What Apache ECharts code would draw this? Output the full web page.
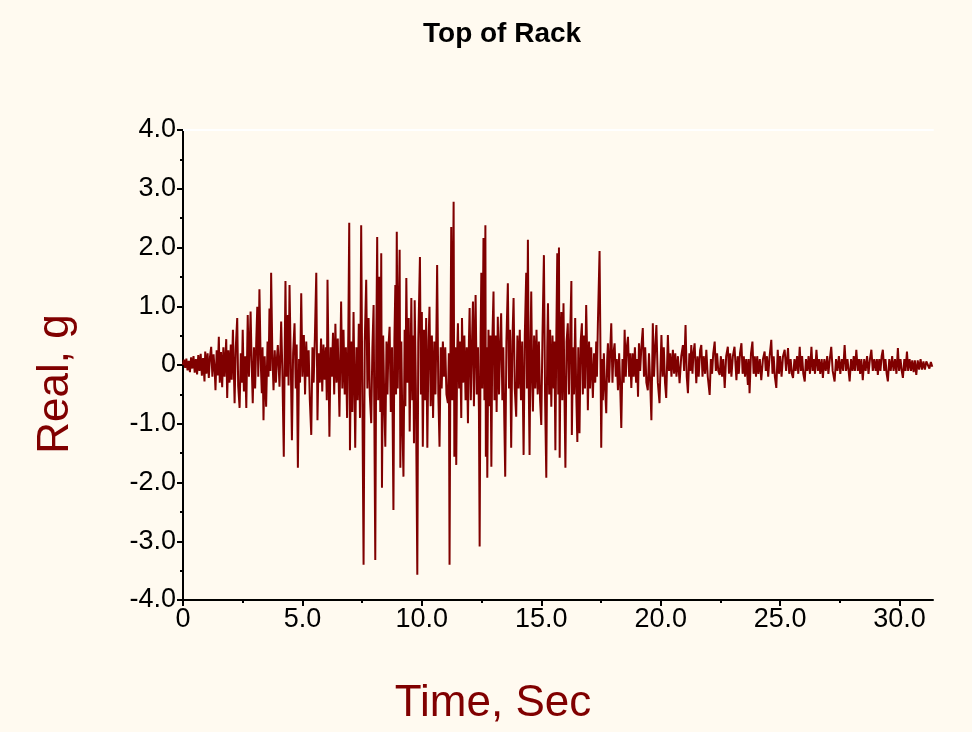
<!DOCTYPE html>
<html>
<head>
<meta charset="utf-8">
<title>Top of Rack</title>
<script src="https://cdn.jsdelivr.net/npm/echarts@6/dist/echarts.min.js"></script>
<style>
  html, body { margin: 0; padding: 0; background: #fffaf0; }
  #chart { width: 972px; height: 732px; }
</style>
</head>
<body>
<div id="chart"></div>
<script>
// acceleration record, [time s, accel g]
var accel = [
  [0,0],[0.04,0.09],[0.09,-0.05],[0.14,0.11],[0.19,-0.09],[0.24,0.07],[0.29,-0.12],[0.34,0.13],[0.39,-0.06],[0.44,0.15],
  [0.49,-0.13],[0.54,0.10],[0.59,-0.16],[0.64,0.17],[0.69,-0.10],[0.74,0.19],[0.79,-0.18],[0.84,0.12],[0.90,-0.28],[0.93,0.23],
  [0.98,-0.15],[1.03,0.20],[1.08,-0.22],[1.13,0.14],[1.18,0.31],[1.23,-0.20],[1.28,0.18],[1.33,-0.12],[1.36,-0.43],[1.41,0.25],
  [1.45,-0.18],[1.50,0.48],[1.54,-0.30],[1.59,0.22],[1.64,-0.38],[1.69,0.30],[1.74,-0.20],[1.78,0.18],[1.81,0.44],[1.85,-0.56],
  [1.90,0.25],[1.95,-0.30],[2.00,0.35],[2.04,-0.25],[2.09,0.60],[2.16,-0.65],[2.21,0.30],[2.27,0.80],[2.31,-0.35],[2.37,-0.73],
  [2.42,0.20],[2.46,-0.30],[2.50,0.60],[2.55,-0.45],[2.60,0.15],[2.65,-0.73],[2.71,0.85],[2.76,-0.20],[2.83,0.91],[2.87,0.10],
  [2.92,-0.65],[2.97,0.30],[3.02,-0.40],[3.07,0.45],[3.11,0.99],[3.15,-0.20],[3.20,1.29],[3.25,0.10],[3.30,-0.48],[3.33,0.30],
  [3.37,-0.94],[3.42,0.15],[3.48,-0.71],[3.54,0.40],[3.58,-0.20],[3.62,0.96],[3.66,-0.10],[3.69,1.57],[3.74,0.20],[3.79,-0.43],
  [3.84,0.25],[3.89,-0.30],[3.93,0.10],[3.97,0.34],[4.04,-0.37],[4.11,0.74],[4.16,-0.10],[4.22,-1.56],[4.26,0.30],[4.29,1.43],
  [4.33,-0.20],[4.39,0.85],[4.42,-0.35],[4.46,1.36],[4.51,0.10],[4.56,-1.28],[4.61,0.20],[4.67,0.71],[4.72,-0.40],[4.76,0.35],
  [4.81,-1.75],[4.86,0.10],[4.90,-0.30],[4.95,1.22],[5.00,-0.20],[5.06,0.51],[5.11,-0.50],[5.16,0.40],[5.21,-0.20],[5.26,0.25],
  [5.31,-0.60],[5.37,-1.19],[5.42,0.30],[5.47,-0.30],[5.52,0.45],[5.58,1.57],[5.63,-0.94],[5.68,0.20],[5.73,-0.30],[5.78,0.45],
  [5.83,-0.45],[5.88,0.35],[5.93,-0.25],[5.98,0.30],[6.02,-0.60],[6.05,1.45],[6.13,-1.22],[6.18,0.30],[6.23,-0.20],[6.28,0.55],
  [6.33,-0.50],[6.38,0.70],[6.43,-0.30],[6.48,0.45],[6.55,-0.88],[6.62,1.08],[6.67,-0.40],[6.72,0.60],[6.77,-0.50],[6.82,0.30],
  [6.87,-0.90],[6.92,0.50],[6.96,2.42],[6.99,-1.45],[7.04,0.40],[7.09,-0.80],[7.14,0.90],[7.21,-1.41],[7.26,0.30],[7.31,-0.60],
  [7.36,0.70],[7.41,-0.90],[7.46,2.38],[7.51,-0.60],[7.56,-3.40],[7.61,0.40],[7.67,1.45],[7.72,-0.40],[7.77,0.80],[7.82,-0.50],
  [7.88,-0.99],[7.93,0.30],[7.98,1.02],[8.05,-3.32],[8.09,0.30],[8.13,2.18],[8.17,-0.60],[8.22,1.50],[8.26,-0.80],[8.30,1.90],
  [8.33,-2.09],[8.38,0.50],[8.43,-0.70],[8.47,-1.39],[8.52,0.40],[8.56,-0.50],[8.60,0.30],[8.65,0.65],[8.70,-0.80],[8.75,0.30],
  [8.81,-2.47],[8.85,0.40],[8.89,1.36],[8.92,-0.50],[8.95,2.27],[8.99,-0.40],[9.03,0.80],[9.07,1.96],[9.10,-1.75],[9.14,0.40],
  [9.18,-0.90],[9.23,-1.90],[9.28,0.60],[9.31,-0.70],[9.35,1.48],[9.40,-0.30],[9.45,0.80],[9.49,-1.13],[9.56,1.14],[9.60,-0.60],
  [9.64,0.50],[9.67,-1.33],[9.70,1.10],[9.75,-0.40],[9.81,-3.57],[9.85,0.40],[9.92,1.84],[9.96,-0.50],[10.00,0.90],[10.04,-1.39],
  [10.09,0.60],[10.14,-0.60],[10.18,0.80],[10.23,-1.41],[10.28,0.40],[10.32,0.99],[10.37,-0.70],[10.42,0.50],[10.47,-0.90],[10.52,0.40],
  [10.57,-0.50],[10.61,0.60],[10.64,1.70],[10.69,-0.50],[10.74,-1.39],[10.79,0.30],[10.83,-0.40],[10.88,0.40],[10.93,-0.20],[10.98,0.30],
  [11.03,-0.50],[11.09,-0.65],[11.13,0.20],[11.16,-3.40],[11.20,0.50],[11.23,2.35],[11.27,-0.60],[11.33,2.78],[11.36,-1.56],[11.40,0.30],
  [11.44,-1.70],[11.48,0.20],[11.51,0.71],[11.56,-0.40],[11.60,0.40],[11.65,-0.90],[11.68,0.80],[11.73,-0.30],[11.78,0.50],[11.83,-0.60],
  [11.88,0.30],[11.93,-0.99],[11.97,0.40],[12.00,0.97],[12.05,-0.60],[12.10,0.40],[12.14,1.08],[12.18,-0.70],[12.22,0.50],[12.25,1.19],
  [12.30,-0.50],[12.35,0.30],[12.39,-0.80],[12.42,-3.09],[12.46,0.50],[12.49,1.57],[12.53,-0.40],[12.58,2.16],[12.62,-0.60],[12.66,2.38],
  [12.68,-1.56],[12.71,0.30],[12.74,-1.92],[12.79,0.60],[12.83,-0.70],[12.87,0.50],[12.91,-1.73],[12.95,0.40],[13.00,1.25],[13.04,-0.60],
  [13.09,0.50],[13.13,-0.80],[13.18,0.82],[13.23,-0.50],[13.28,0.40],[13.32,0.88],[13.37,-0.60],[13.41,0.30],[13.45,-0.90],[13.49,-1.90],
  [13.54,0.40],[13.60,1.39],[13.65,-0.40],[13.69,0.60],[13.74,-1.41],[13.79,0.40],[13.84,1.14],[13.89,-0.40],[13.95,-0.88],[14.00,0.50],
  [14.05,-0.40],[14.10,0.60],[14.15,-0.60],[14.20,0.40],[14.26,-1.53],[14.31,0.50],[14.37,1.57],[14.40,-0.40],[14.44,2.13],[14.48,-0.50],
  [14.51,-1.53],[14.55,0.40],[14.58,1.25],[14.62,-0.30],[14.65,-0.79],[14.70,0.50],[14.75,-0.40],[14.80,0.60],[14.85,-0.50],[14.90,0.40],
  [14.95,-0.60],[15.00,-1.02],[15.05,0.50],[15.11,1.87],[15.16,-0.60],[15.21,-1.92],[15.25,0.30],[15.28,1.05],[15.33,-0.50],[15.37,0.60],
  [15.42,-0.71],[15.47,0.50],[15.52,-0.40],[15.55,0.40],[15.59,-1.45],[15.63,0.50],[15.67,1.90],[15.71,-0.50],[15.74,2.00],[15.77,-1.58],
  [15.81,0.40],[15.84,0.90],[15.88,-0.60],[15.93,1.05],[15.97,-0.50],[16.01,-1.75],[16.06,0.40],[16.11,0.71],[16.16,-0.50],[16.21,0.50],
  [16.26,1.43],[16.28,-1.19],[16.33,0.30],[16.37,-0.50],[16.42,0.80],[16.46,-0.40],[16.51,-1.31],[16.55,0.30],[16.60,-1.16],[16.65,0.40],
  [16.70,0.71],[16.74,-0.50],[16.79,0.50],[16.83,-0.40],[16.88,1.02],[16.92,0.20],[16.95,-0.77],[17.00,0.40],[17.04,-0.40],[17.09,0.30],
  [17.16,-0.56],[17.21,0.20],[17.26,-0.30],[17.30,0.40],[17.33,-0.20],[17.37,0.71],[17.44,1.94],[17.47,0.60],[17.51,-1.41],[17.55,0.10],
  [17.58,-0.60],[17.62,0.20],[17.67,-0.40],[17.72,-0.82],[17.76,0.10],[17.79,0.37],[17.84,-0.30],[17.89,0.30],[17.93,0.71],[17.98,-0.30],
  [18.02,0.20],[18.07,0.37],[18.12,-0.20],[18.16,0.10],[18.21,-0.43],[18.26,0.20],[18.30,-0.30],[18.35,-1.07],[18.40,0.10],[18.45,-0.30],
  [18.49,0.60],[18.54,-0.20],[18.58,0.30],[18.63,0.48],[18.68,-0.20],[18.72,0.20],[18.77,-0.39],[18.82,0.20],[18.87,-0.20],[18.92,0.30],
  [18.97,-0.30],[19.01,0.10],[19.05,-0.54],[19.09,0.37],[19.14,-0.10],[19.19,0.30],[19.25,0.63],[19.30,-0.20],[19.35,0.30],[19.40,-0.30],
  [19.46,-0.43],[19.51,0.20],[19.56,-0.30],[19.61,-0.94],[19.67,0.71],[19.72,-0.20],[19.77,0.30],[19.82,0.68],[19.88,-0.30],[19.95,-0.65],
  [20.03,0.51],[20.08,-0.20],[20.13,0.30],[20.18,-0.30],[20.23,-0.56],[20.30,0.51],[20.35,-0.10],[20.40,0.20],[20.45,-0.20],[20.51,0.26],
  [20.56,-0.15],[20.61,0.20],[20.66,-0.20],[20.72,0.15],[20.79,-0.31],[20.86,0.15],[20.93,0.34],[20.98,-0.10],[21.04,0.68],[21.09,-0.20],
  [21.14,-0.48],[21.20,0.20],[21.24,-0.10],[21.28,0.34],[21.33,-0.15],[21.37,0.20],[21.42,0.37],[21.49,-0.31],[21.54,0.15],[21.59,-0.20],
  [21.65,0.25],[21.70,0.34],[21.75,-0.20],[21.80,0.15],[21.86,-0.15],[21.91,0.26],[21.97,-0.20],[22.05,-0.51],[22.10,0.10],[22.15,-0.15],
  [22.20,0.20],[22.26,0.40],[22.31,-0.10],[22.36,0.20],[22.41,-0.10],[22.47,-0.17],[22.52,0.15],[22.57,-0.20],[22.62,0.10],[22.68,-0.39],
  [22.74,0.15],[22.81,0.31],[22.86,-0.15],[22.91,0.20],[22.96,-0.20],[23.02,0.15],[23.09,0.31],[23.17,-0.26],[23.22,0.15],[23.27,-0.15],
  [23.32,0.20],[23.38,0.37],[23.43,-0.15],[23.48,0.15],[23.53,-0.20],[23.58,0.10],[23.65,-0.34],[23.68,0.10],[23.72,-0.48],[23.78,0.20],
  [23.84,0.40],[23.89,-0.15],[23.94,0.15],[23.99,-0.20],[24.04,0.15],[24.09,-0.15],[24.15,0.10],[24.21,-0.26],[24.28,0.10],[24.35,0.23],
  [24.40,-0.10],[24.45,0.15],[24.50,-0.20],[24.56,0.15],[24.63,0.43],[24.68,-0.15],[24.73,0.15],[24.78,-0.20],[24.84,-0.39],[24.90,0.26],
  [24.95,-0.15],[25.00,0.15],[25.06,-0.20],[25.12,0.15],[25.19,0.26],[25.25,-0.10],[25.33,0.29],[25.38,-0.15],[25.44,0.10],[25.49,-0.15],
  [25.54,-0.22],[25.60,0.10],[25.65,-0.10],[25.71,0.15],[25.76,-0.15],[25.82,0.31],[25.87,-0.10],[25.92,0.15],[25.97,-0.15],[26.03,-0.28],
  [26.08,0.10],[26.14,-0.10],[26.19,0.15],[26.25,-0.15],[26.31,0.31],[26.36,-0.10],[26.41,0.10],[26.46,-0.15],[26.52,0.26],[26.58,-0.10],
  [26.63,0.10],[26.68,-0.15],[26.74,0.10],[26.79,-0.22],[26.85,0.10],[26.91,-0.10],[26.97,0.15],[27.02,-0.15],[27.08,0.10],[27.14,0.31],
  [27.20,-0.10],[27.28,-0.28],[27.34,0.10],[27.40,-0.10],[27.46,0.15],[27.52,-0.15],[27.58,0.10],[27.64,-0.10],[27.70,0.34],[27.76,-0.10],
  [27.82,0.10],[27.91,-0.28],[27.97,0.10],[28.03,-0.10],[28.08,0.15],[28.13,-0.10],[28.19,0.26],[28.25,-0.10],[28.30,0.10],[28.35,-0.15],
  [28.40,0.10],[28.46,-0.26],[28.52,0.10],[28.58,-0.10],[28.64,0.15],[28.70,-0.15],[28.76,0.10],[28.82,0.26],[28.88,-0.10],[28.94,0.10],
  [29.00,-0.10],[29.05,0.10],[29.09,-0.17],[29.15,0.10],[29.20,-0.10],[29.25,0.15],[29.30,0.26],[29.36,-0.10],[29.41,0.10],[29.46,-0.15],
  [29.51,-0.28],[29.57,0.10],[29.63,-0.10],[29.69,0.15],[29.75,-0.10],[29.81,0.10],[29.87,-0.15],[29.93,0.29],[29.98,-0.10],[30.04,0.10],
  [30.09,-0.10],[30.14,-0.22],[30.20,0.10],[30.25,-0.10],[30.31,0.23],[30.36,-0.10],[30.42,0.10],[30.48,-0.10],[30.53,0.08],[30.59,-0.12],
  [30.64,0.08],[30.70,-0.17],[30.76,0.08],[30.82,-0.08],[30.88,0.10],[30.94,-0.08],[31.00,0.06],[31.06,-0.08],[31.12,0.06],[31.19,0.09],
  [31.25,-0.06],[31.31,0.05],[31.37,-0.03]
];

var xTicks = [0, 5, 10, 15, 20, 25, 30];
var xMinorTicks = [2.5, 7.5, 12.5, 17.5, 22.5, 27.5];
var yTicks = [-4, -3, -2, -1, 0, 1, 2, 3, 4];

var font = "Liberation Sans";
var maroon = "#800000";

function tickText(v) {
  return v === 0 ? "0" : v.toFixed(1);
}

var myChart = echarts.init(document.getElementById("chart"));
var option = {
  backgroundColor: "#fffaf0",
  animation: false,
  title: {
    text: "Top of Rack",
    left: 418,
    top: 15,
    textStyle: { fontFamily: font, fontSize: 28, fontWeight: "bold", color: "#000" }
  },
  grid: { left: 183, right: 39, top: 130, bottom: 132, containLabel: false },
  xAxis: [
    {
      type: "value",
      position: "bottom",
      min: 0,
      max: 31.4,
      axisLine: { onZero: false, lineStyle: { color: "#000", width: 2 } },
      axisTick: { show: true, length: 6, customValues: xTicks, lineStyle: { color: "#000", width: 2 } },
      axisLabel: {
        customValues: xTicks,
        margin: 6,
        fontFamily: font,
        fontSize: 27,
        color: "#000",
        formatter: tickText
      },
      splitLine: { show: false }
    },
    {
      type: "value",
      position: "bottom",
      min: 0,
      max: 31.4,
      axisLine: { show: false, onZero: false },
      axisTick: { show: true, length: 3, customValues: xMinorTicks, lineStyle: { color: "#000", width: 2 } },
      axisLabel: { show: false },
      splitLine: { show: false }
    },
    {
      type: "value",
      position: "top",
      min: 0,
      max: 31.4,
      axisLine: { show: true, onZero: false, lineStyle: { color: "#ffffff", width: 2 } },
      axisTick: { show: false },
      axisLabel: { show: false },
      splitLine: { show: false }
    }
  ],
  yAxis: {
    type: "value",
    min: yTicks[0],
    max: yTicks[yTicks.length - 1],
    interval: 1,
    axisLine: { show: true, onZero: false, lineStyle: { color: "#000", width: 2 } },
    axisTick: { show: true, length: 6, lineStyle: { color: "#000", width: 2 } },
    minorTick: { show: true, splitNumber: 2, length: 3, lineStyle: { color: "#000", width: 2 } },
    axisLabel: {
      margin: 7,
      fontFamily: font,
      fontSize: 27,
      color: "#000",
      formatter: tickText
    },
    splitLine: { show: false }
  },
  graphic: [
    {
      type: "text",
      x: 56,
      y: 384,
      rotation: Math.PI / 2,
      style: {
        text: "Real, g",
        fill: maroon,
        font: "44px " + font,
        textAlign: "center",
        textVerticalAlign: "middle"
      }
    },
    {
      type: "text",
      x: 493,
      y: 704,
      style: {
        text: "Time, Sec",
        fill: maroon,
        font: "44px " + font,
        textAlign: "center",
        textVerticalAlign: "middle"
      }
    }
  ],
  series: [
    {
      type: "line",
      xAxisIndex: 0,
      data: accel,
      showSymbol: false,
      sampling: null,
      lineStyle: { color: maroon, width: 2 },
      itemStyle: { color: maroon }
    }
  ]
};
myChart.setOption(option);
</script>
</body>
</html>
